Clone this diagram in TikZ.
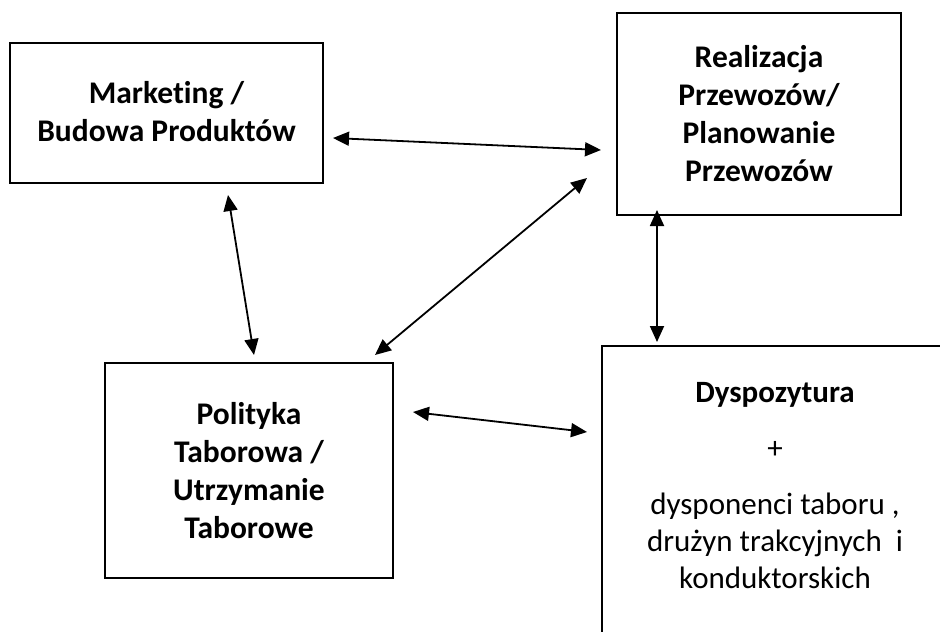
\documentclass[tikz,border=0pt]{standalone}
\usepackage{fontspec}
\setmainfont{Carlito}[RawFeature=-liga]
\usetikzlibrary{arrows.meta}
\tikzset{
  box/.style={draw, line width=1.6pt, inner sep=0pt, align=center,
    font=\fontsize{31.5}{38}\selectfont\bfseries},
  link/.style={line width=1.8pt,
    {Triangle[length=16pt,width=14pt]}-{Triangle[length=16pt,width=14pt]}},
  plain/.style={align=center, inner sep=0pt, font=\fontsize{31}{37}\selectfont}
}
\begin{document}
\begin{tikzpicture}[x=1pt,y=-1pt]
\useasboundingbox (0,0) rectangle (940,632);
\clip (0,0) rectangle (940,632);
\fill[white] (0,0) rectangle (940,632);

\node[box, minimum width=313pt, minimum height=140pt] (A) at (166.5,113)
  {\raisebox{3pt}{Marketing /}\\\raisebox{3pt}{Budowa Produktów}};
\node[box, minimum width=284pt, minimum height=202pt] (B) at (759,114)
  {Realizacja\\Przewozów/\\Planowanie\\Przewozów};
\node[box, minimum width=288pt, minimum height=215pt] (C) at (249,470.5)
  {Polityka\\Taborowa /\\Utrzymanie\\Taborowe};
\node[box, minimum width=400pt, minimum height=350pt, anchor=north west] (D) at (601,345) {};
\node[plain, anchor=base] (Dt) at (775,588)
  {\textbf{Dyspozytura}\\[19pt]+\\[19pt]dysponenci taboru ,\\drużyn trakcyjnych\ \ i\\konduktorskich};

\coordinate (a1) at (333,138);
\coordinate (a2) at (601,150);
\coordinate (b1) at (228,195);
\coordinate (b2) at (254,355);
\coordinate (c1) at (375,355);
\coordinate (c2) at (587,178);
\coordinate (d1) at (657,210);
\coordinate (d2) at (657,342);
\coordinate (e1) at (413,412);
\coordinate (e2) at (587,432);

\draw[link] (a1) -- (a2);
\draw[link] (b1) -- (b2);
\draw[link] (c1) -- (c2);
\draw[link] (d1) -- (d2);
\draw[link] (e1) -- (e2);
\end{tikzpicture}
\end{document}
